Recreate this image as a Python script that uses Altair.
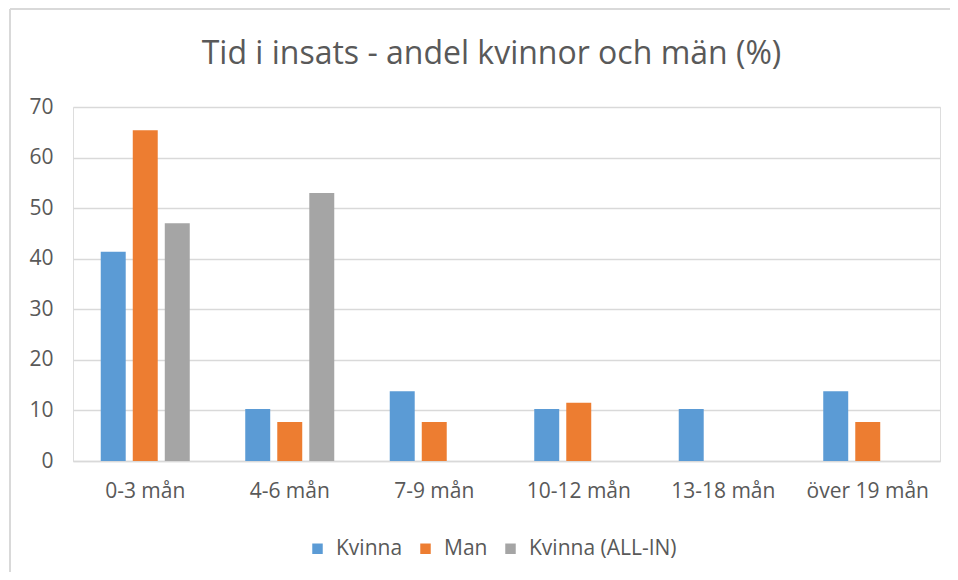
import altair as alt
import pandas as pd

categories = ["0-3 mån", "4-6 mån", "7-9 mån", "10-12 mån", "13-18 mån", "över 19 mån"]
series = ["Kvinna", "Man", "Kvinna (ALL-IN)"]
kvinna = [41.4, 10.3, 13.8, 10.3, 10.3, 13.8]
man = [65.4, 7.7, 7.7, 11.5, None, 7.7]
kvinna_allin = [47.0, 53.0, None, None, None, None]
colors = ["#5B9BD5", "#ED7D31", "#A5A5A5"]
y_ticks = [0, 10, 20, 30, 40, 50, 60, 70]

FONT = "Open Sans"
TXT = "#595959"
GRID = "#D9D9D9"

rows = []
for s, vals in zip(series, [kvinna, man, kvinna_allin]):
    for c, v in zip(categories, vals):
        if v is not None:
            rows.append({"kategori": c, "serie": s, "andel": v})
df = pd.DataFrame(rows)

bars = alt.Chart(df).mark_bar().encode(
    x=alt.X(
        "kategori:N",
        sort=categories,
        scale=alt.Scale(domain=categories, paddingInner=0.384, paddingOuter=0.192),
        axis=alt.Axis(
            title=None, labelAngle=0, ticks=False, tickSize=0, labelPadding=19,
            domainColor=GRID, domainWidth=1.5, labelFont=FONT, labelFontSize=21,
            labelColor=TXT, grid=False,
        ),
    ),
    xOffset=alt.XOffset(
        "serie:N", sort=series,
        scale=alt.Scale(domain=series, paddingInner=0.22, paddingOuter=0),
    ),
    y=alt.Y(
        "andel:Q",
        scale=alt.Scale(domain=[0, 70], nice=False),
        axis=alt.Axis(
            values=y_ticks, title=None, domain=False, ticks=False, tickSize=0,
            labelPadding=20, gridColor=GRID, gridWidth=1.5, labelFont=FONT,
            labelFontSize=21, labelColor=TXT,
        ),
    ),
    color=alt.Color(
        "serie:N",
        scale=alt.Scale(domain=series, range=colors),
        legend=alt.Legend(
            title=None, orient="none", direction="horizontal",
            legendX=234, legendY=431, padding=0,
            symbolType="square", symbolSize=110, symbolStrokeWidth=0,
            symbolOpacity=1, labelOffset=8, columnPadding=12,
            labelFont=FONT, labelFontSize=21, labelColor=TXT,
        ),
    ),
)

frame_df = pd.DataFrame({"f": [0]})
frame_left = alt.Chart(frame_df).mark_rule(color=GRID, strokeWidth=2).encode(
    x=alt.value(-63), y=alt.value(-98), y2=alt.value(470)
)
frame_top = alt.Chart(frame_df).mark_rule(color=GRID, strokeWidth=2).encode(
    x=alt.value(-63), x2=alt.value(900), y=alt.value(-98)
)

chart = alt.layer(bars, frame_left, frame_top).properties(
    width=867,
    height=354,
    autosize=alt.AutoSizeParams(type="none"),
    padding={"left": 65, "top": 99, "right": 10, "bottom": 111},
    title=alt.TitleParams(
        "Tid i insats - andel kvinnor och män (%)",
        font=FONT, fontSize=32, fontWeight="normal", color=TXT,
        anchor="middle", dx=-15, offset=-88, baseline="alphabetic",
    ),
).configure_view(stroke=None).configure(background="white")

chart.save("out.html", embed_options={"renderer": "svg", "actions": False})
